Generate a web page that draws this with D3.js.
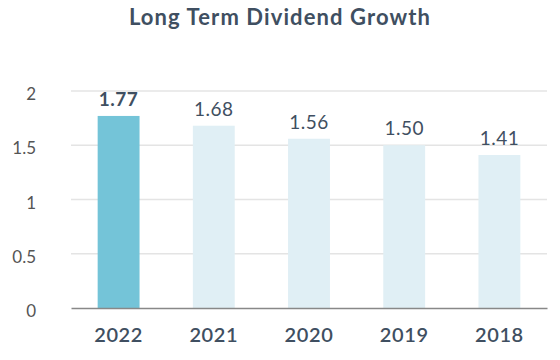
<!DOCTYPE html>
<html>
<head>
<meta charset="utf-8">
<script src="https://cdn.jsdelivr.net/npm/d3@7"></script>
<style>
  body { margin: 0; background: #fff; }
  svg text { font-family: Lato, "Open Sans", sans-serif; }
</style>
</head>
<body>
<div id="chart"></div>
<script>
const years = ['2022', '2021', '2020', '2019', '2018'];
const dividends = [1.77, 1.68, 1.56, 1.50, 1.41];
const yTicks = [0, 0.5, 1, 1.5, 2];

const width = 560;
const height = 360;
const margin = { top: 91, right: 13, bottom: 52, left: 71 };

const svg = d3
  .select('#chart')
  .append('svg')
  .attr('width', width)
  .attr('height', height);

svg
  .append('text')
  .attr('x', width / 2)
  .attr('y', 25)
  .attr('text-anchor', 'middle')
  .attr('fill', '#3f4f61')
  .style('font-size', '22px')
  .style('letter-spacing', '1.1px')
  .style('font-weight', 'bold')
  .text('Long Term Dividend Growth');

const x = d3
  .scaleBand()
  .domain(years)
  .range([margin.left, width - margin.right])
  .paddingInner(0.56)
  .paddingOuter(0.28);

const y = d3
  .scaleLinear()
  .domain([0, 2])
  .range([height - margin.bottom, margin.top]);

// gridlines
svg
  .append('g')
  .selectAll('line')
  .data(yTicks.filter(d => d > 0))
  .join('line')
  .attr('x1', margin.left)
  .attr('x2', width - margin.right)
  .attr('y1', d => y(d))
  .attr('y2', d => y(d))
  .attr('stroke', '#e4e4e4')
  .attr('stroke-width', 1.5);

// y axis labels
const yAxis = svg
  .append('g')
  .attr('transform', `translate(${margin.left},0)`)
  .call(d3.axisLeft(y).tickValues(yTicks).tickSize(0).tickPadding(35).tickFormat(d3.format('')));
yAxis.select('.domain').remove();
yAxis
  .selectAll('text')
  .attr('dy', '0.5em')
  .attr('fill', '#555')
  .style('font-size', '17px')
  .style('font-weight', 'normal');

// bars
svg
  .append('g')
  .selectAll('rect')
  .data(dividends)
  .join('rect')
  .attr('x', (d, i) => x(years[i]))
  .attr('y', d => y(d))
  .attr('width', x.bandwidth())
  .attr('height', d => y(0) - y(d))
  .attr('fill', (d, i) => (i === 0 ? '#74c4d8' : '#e0eff5'));

// value labels
svg
  .append('g')
  .selectAll('text')
  .data(dividends)
  .join('text')
  .attr('x', (d, i) => x(years[i]) + x.bandwidth() / 2)
  .attr('y', d => y(d) - 10)
  .attr('text-anchor', 'middle')
  .attr('fill', '#3f4f61')
  .style('font-size', '19px')
  .style('letter-spacing', '0.5px')
  .style('font-weight', (d, i) => (i === 0 ? 'bold' : 'normal'))
  .text(d => d.toFixed(2));

// x axis
const xAxis = svg
  .append('g')
  .attr('transform', `translate(0,${y(0)})`)
  .call(d3.axisBottom(x).tickSize(0).tickPadding(20));
xAxis.select('.domain').attr('stroke', '#888').attr('stroke-width', 1.5);
xAxis
  .selectAll('text')
  .attr('fill', '#3f4f61')
  .style('font-size', '20px')
  .style('letter-spacing', '0.6px')
  .style('font-weight', '600');
</script>
</body>
</html>
